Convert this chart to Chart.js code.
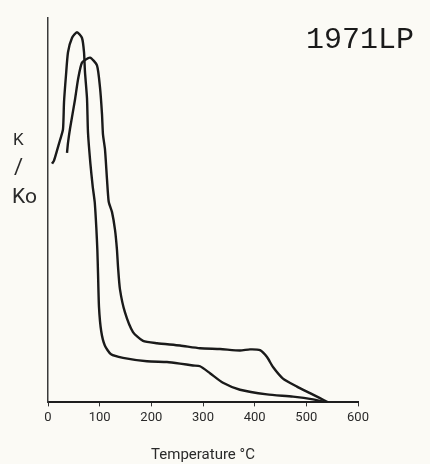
<!DOCTYPE html>
<html>
<head>
<meta charset="utf-8">
<script src="https://cdn.jsdelivr.net/npm/chart.js@4.4.1/dist/chart.umd.min.js"></script>
<style>
	html, body { margin: 0; padding: 0; background: #fbfaf5; }
	canvas { display: block; background: #fbfaf5; }
</style>
</head>
<body>
<canvas id="myChart" width="430" height="464"></canvas>
<script>
const sampleName = '1971LP';
const xTicks = [0, 100, 200, 300, 400, 500, 600];

// first curve (taller peak, left)
const tempA = [7.7, 11.6, 17.4, 23.2, 29.0, 31.0, 34.8, 38.7, 46.4, 56.1, 65.8, 69.7, 71.6, 75.5, 77.4, 82.0, 86.5, 90.5, 93.5, 95.5, 96.8, 98.7, 103.0, 110.0, 122.0, 145.2, 191.6, 230.3, 255.5, 280.6, 294.2, 313.5, 338.7, 371.6, 423.9, 474.2, 512.9, 540];
const kA = [0.621, 0.629, 0.655, 0.682, 0.710, 0.781, 0.851, 0.911, 0.948, 0.963, 0.948, 0.911, 0.859, 0.791, 0.702, 0.622, 0.562, 0.520, 0.455, 0.397, 0.337, 0.248, 0.185, 0.148, 0.125, 0.116, 0.107, 0.105, 0.101, 0.096, 0.094, 0.076, 0.051, 0.033, 0.021, 0.015, 0.008, 0.0];

// second curve (lower peak, right)
const tempB = [36.8, 38.7, 42.6, 52.3, 58.1, 65.8, 81.3, 94.8, 100.6, 104.5, 106.4, 110.3, 114.2, 117.5, 123.9, 129.7, 133.5, 135.5, 139.3, 149.0, 164.5, 183.9, 211.0, 255.5, 294.2, 332.9, 371.6, 390.9, 410.3, 423.9, 435.5, 454.8, 481.9, 507.1, 526.4, 542];
const kB = [0.649, 0.675, 0.712, 0.788, 0.840, 0.884, 0.897, 0.877, 0.820, 0.750, 0.697, 0.658, 0.580, 0.522, 0.495, 0.449, 0.397, 0.353, 0.294, 0.234, 0.183, 0.160, 0.154, 0.148, 0.141, 0.139, 0.135, 0.138, 0.136, 0.118, 0.092, 0.062, 0.041, 0.024, 0.011, 0.0];

const narrowFont = 'Roboto, "DejaVu Sans"';

function toPoints(xs, ys) {
	return xs.map(function (x, i) { return { x: x, y: ys[i] }; });
}

const textPlugin = {
	id: 'textPlugin',
	afterDraw(chart) {
		const c = chart.ctx;
		c.save();
		c.fillStyle = '#1a1a1a';
		c.textBaseline = 'alphabetic';
		c.textAlign = 'left';
		c.font = '30px "Liberation Mono"';
		c.fillText(sampleName, 306, 48);
		c.fillStyle = '#2a2a2a';
		c.font = '17px ' + narrowFont;
		c.fillText('K', 13, 145);
		c.font = '22px ' + narrowFont;
		c.fillText('/', 14, 174);
		c.font = '21px ' + narrowFont;
		c.fillText('Ko', 12, 203);
		c.restore();
	}
};

const ctx = document.getElementById('myChart').getContext('2d');
new Chart(ctx, {
	type: 'scatter',
	data: {
		datasets: [{
			label: 'A',
			data: toPoints(tempA, kA),
			showLine: true,
			borderColor: '#1a1a1a',
			borderWidth: 2.4,
			pointRadius: 0,
			tension: 0.2,
			fill: false
		}, {
			label: 'B',
			data: toPoints(tempB, kB),
			showLine: true,
			borderColor: '#1a1a1a',
			borderWidth: 2.4,
			pointRadius: 0,
			tension: 0.2,
			fill: false
		}]
	},
	options: {
		responsive: false,
		animation: false,
		layout: { padding: { left: 40, right: 72, top: 18, bottom: 0 } },
		plugins: {
			legend: { display: false },
			tooltip: { enabled: false }
		},
		scales: {
			x: {
				type: 'linear',
				min: 0,
				max: 600,
				afterBuildTicks: function (axis) {
					axis.ticks = xTicks.map(function (v) { return { value: v }; });
				},
				grid: {
					drawOnChartArea: false,
					drawTicks: true,
					tickLength: 4,
					color: '#333'
				},
				border: { color: '#1e1e1e', width: 2 },
				ticks: {
					color: '#2a2a2a',
					padding: 4,
					maxRotation: 0,
					font: { family: narrowFont, size: 13 }
				},
				title: {
					display: true,
					text: 'Temperature °C',
					color: '#2a2a2a',
					font: { family: narrowFont, size: 15 },
					padding: { top: 16, bottom: 0 }
				}
			},
			y: {
				type: 'linear',
				min: 0,
				max: 1,
				grid: { display: false },
				border: { color: '#3a3a3a', width: 1.5 },
				ticks: { display: false }
			}
		}
	},
	plugins: [textPlugin]
});
</script>
</body>
</html>
